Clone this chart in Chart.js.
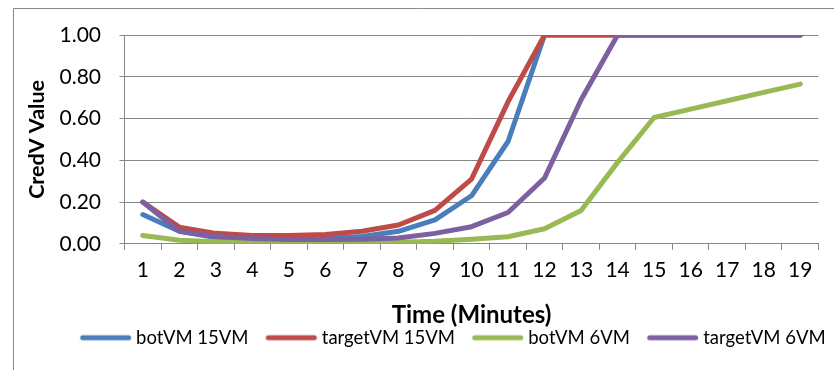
<!DOCTYPE html>
<html>
<head>
<meta charset="utf-8">
<script src="https://cdn.jsdelivr.net/npm/chart.js@4/dist/chart.umd.min.js"></script>
<style>
  html, body { margin: 0; padding: 0; background: #fff; }
  #wrap { width: 834px; height: 370px; position: relative; }
</style>
</head>
<body>
<div id="wrap"><canvas id="c" width="834" height="370"></canvas></div>
<script>
const categories = ['1','2','3','4','5','6','7','8','9','10','11','12','13','14','15','16','17','18','19'];
const botVM15 = [0.14,0.06,0.03,0.025,0.025,0.025,0.035,0.06,0.115,0.23,0.49,1,1,1,1,1,1,1,1];
const targetVM15 = [0.20,0.08,0.05,0.04,0.04,0.045,0.06,0.09,0.16,0.31,0.68,1,1,1,1,1,1,1,1];
const botVM6 = [0.04,0.017,0.01,0.006,0.005,0.005,0.005,0.008,0.012,0.022,0.034,0.072,0.16,0.39,0.605,0.645,0.685,0.725,0.765];
const targetVM6 = [0.20,0.06,0.035,0.025,0.02,0.02,0.022,0.028,0.05,0.082,0.15,0.315,0.69,1,1,1,1,1,1];
const seriesNames = ['botVM 15VM','targetVM 15VM','botVM 6VM','targetVM 6VM'];
const seriesColors = ['#4A7EBB','#BE4B48','#98B954','#7D60A0'];
const yTicks = [0, 0.2, 0.4, 0.6, 0.8, 1.0];

const FONT = 'Lato, "Liberation Sans", sans-serif';
const GRID = '#868686';

const frame = {
  id: 'frame',
  beforeDraw(chart) {
    const ctx = chart.ctx;
    ctx.save();
    ctx.strokeStyle = '#8a8a8a';
    ctx.lineWidth = 1;
    ctx.beginPath();
    ctx.moveTo(13.5, 370);
    ctx.lineTo(13.5, 8.5);
    ctx.lineTo(834, 8.5);
    ctx.stroke();
    ctx.restore();
  }
};

const legendShift = {
  id: 'legendShift',
  afterLayout(chart) {
    const lg = chart.legend;
    if (lg) { lg.left += 41; lg.right += 41; }
  }
};

// legend marker: a short line, drawn nearer to its label like the original
function legendMarker(color) {
  const c = document.createElement('canvas');
  c.width = 64; c.height = 8;
  const g = c.getContext('2d');
  g.strokeStyle = color; g.lineWidth = 5; g.lineCap = 'round';
  g.beginPath(); g.moveTo(13.75, 4); g.lineTo(59.75, 4); g.stroke();
  return c;
}

function mk(i, data, order) {
  return {
    label: seriesNames[i], data: data,
    borderColor: seriesColors[i], backgroundColor: seriesColors[i],
    borderWidth: 5, pointRadius: 0, pointHoverRadius: 0, tension: 0,
    pointStyle: legendMarker(seriesColors[i]),
    borderJoinStyle: 'round', borderCapStyle: 'round', fill: false, order: order
  };
}

new Chart(document.getElementById('c'), {
  type: 'line',
  data: {
    labels: categories,
    datasets: [mk(0, botVM15, 4), mk(1, targetVM15, 3), mk(2, botVM6, 2), mk(3, targetVM6, 1)]
  },
  plugins: [frame, legendShift],
  options: {
    responsive: false,
    animation: false,
    layout: { padding: { left: 0, right: 15.5, top: 35, bottom: 13 } },
    plugins: {
      tooltip: { enabled: false },
      legend: {
        position: 'bottom',
        align: 'center',
        labels: {
          usePointStyle: true, pointStyleWidth: 52,
          font: { family: FONT, size: 18.5 }, color: '#000', padding: 12,
          sort: (a, b) => a.datasetIndex - b.datasetIndex
        }
      }
    },
    scales: {
      x: {
        type: 'category',
        offset: true,
        grid: { offset: true, drawOnChartArea: false, drawTicks: true, tickLength: 6, color: GRID },
        border: { color: GRID, width: 1 },
        ticks: { font: { family: FONT, size: 21 }, color: '#000', padding: 8, maxRotation: 0, autoSkip: false },
        title: { display: true, text: 'Time (Minutes)', font: { family: FONT, size: 24, weight: 'bold' }, color: '#000', padding: { top: 0, bottom: -13 } },
        afterFit(s) { s.height = 72.7; }
      },
      y: {
        min: 0, max: 1,
        afterBuildTicks(s) { s.ticks = yTicks.map(v => ({ value: v })); },
        grid: { color: GRID, tickLength: 5, drawTicks: true },
        border: { color: GRID, width: 1 },
        ticks: { font: { family: FONT, size: 21 }, color: '#000', padding: 18.5, callback: v => Number(v).toFixed(2) },
        title: { display: true, text: 'CredV Value', font: { family: FONT, size: 21.5, weight: 'bold' }, color: '#000', padding: { top: 24, bottom: 0 } },
        afterFit(s) { s.width = 124.5; }
      }
    }
  }
});
</script>
</body>
</html>
